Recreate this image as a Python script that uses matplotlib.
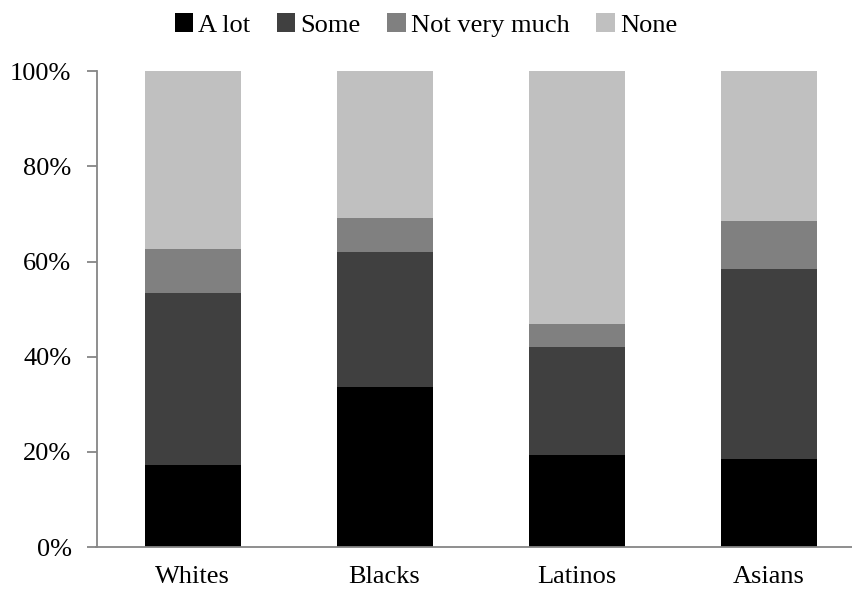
import matplotlib
matplotlib.use("Agg")
import matplotlib.pyplot as plt
import numpy as np
from matplotlib.ticker import FuncFormatter

categories = ["Whites", "Blacks", "Latinos", "Asians"]
a_lot = [17.3, 33.7, 19.4, 18.5]
some = [36.0, 28.4, 22.6, 40.0]
not_very_much = [9.4, 7.0, 4.8, 10.1]
none = [37.3, 30.9, 53.2, 31.4]
series_names = ["A lot", "Some", "Not very much", "None"]
colors = ["#000000", "#404040", "#808080", "#C0C0C0"]

plt.rcParams['font.family'] = ['Liberation Serif', 'DejaVu Serif']

W, H = 852, 590
fig = plt.figure(figsize=(W / 100, H / 100), dpi=100)
left_px, right_px = 96.5, 864.5
bottom_px, top_px = 547.0, 71.2
ax = fig.add_axes([left_px / W, (H - bottom_px) / H, (right_px - left_px) / W, (bottom_px - top_px) / H])

x = np.arange(len(categories))
bottom = np.zeros(len(categories))
handles = []
for name, vals, c in zip(series_names, [a_lot, some, not_very_much, none], colors):
    b = ax.bar(x, vals, 0.5, bottom=bottom, color=c, label=name, linewidth=0)
    handles.append(b)
    bottom += np.array(vals)

ax.set_xlim(-0.5, 3.5)
ax.set_ylim(0, 100)
ax.set_yticks([0, 20, 40, 60, 80, 100])
ax.yaxis.set_major_formatter(FuncFormatter(lambda v, p: f"{int(v)}%"))
ax.set_xticks(x)
ax.set_xticklabels(categories)

for s in ["top", "right"]:
    ax.spines[s].set_visible(False)
for s in ["left", "bottom"]:
    ax.spines[s].set_color("#868686")
    ax.spines[s].set_linewidth(1.3)
ax.tick_params(axis="y", length=7, width=1.3, color="#868686", labelsize=19, pad=11, labelcolor="black")
ax.tick_params(axis="x", length=0, labelsize=19, pad=14)

fig.legend(handles=handles, labels=series_names, loc="center", bbox_to_anchor=(0.5, 1 - 25 / H),
           ncol=4, frameon=False, fontsize=19, handlelength=0.7, handleheight=0.7,
           handletextpad=0.2, columnspacing=1.0)

fig.savefig("out.png", dpi=100)
